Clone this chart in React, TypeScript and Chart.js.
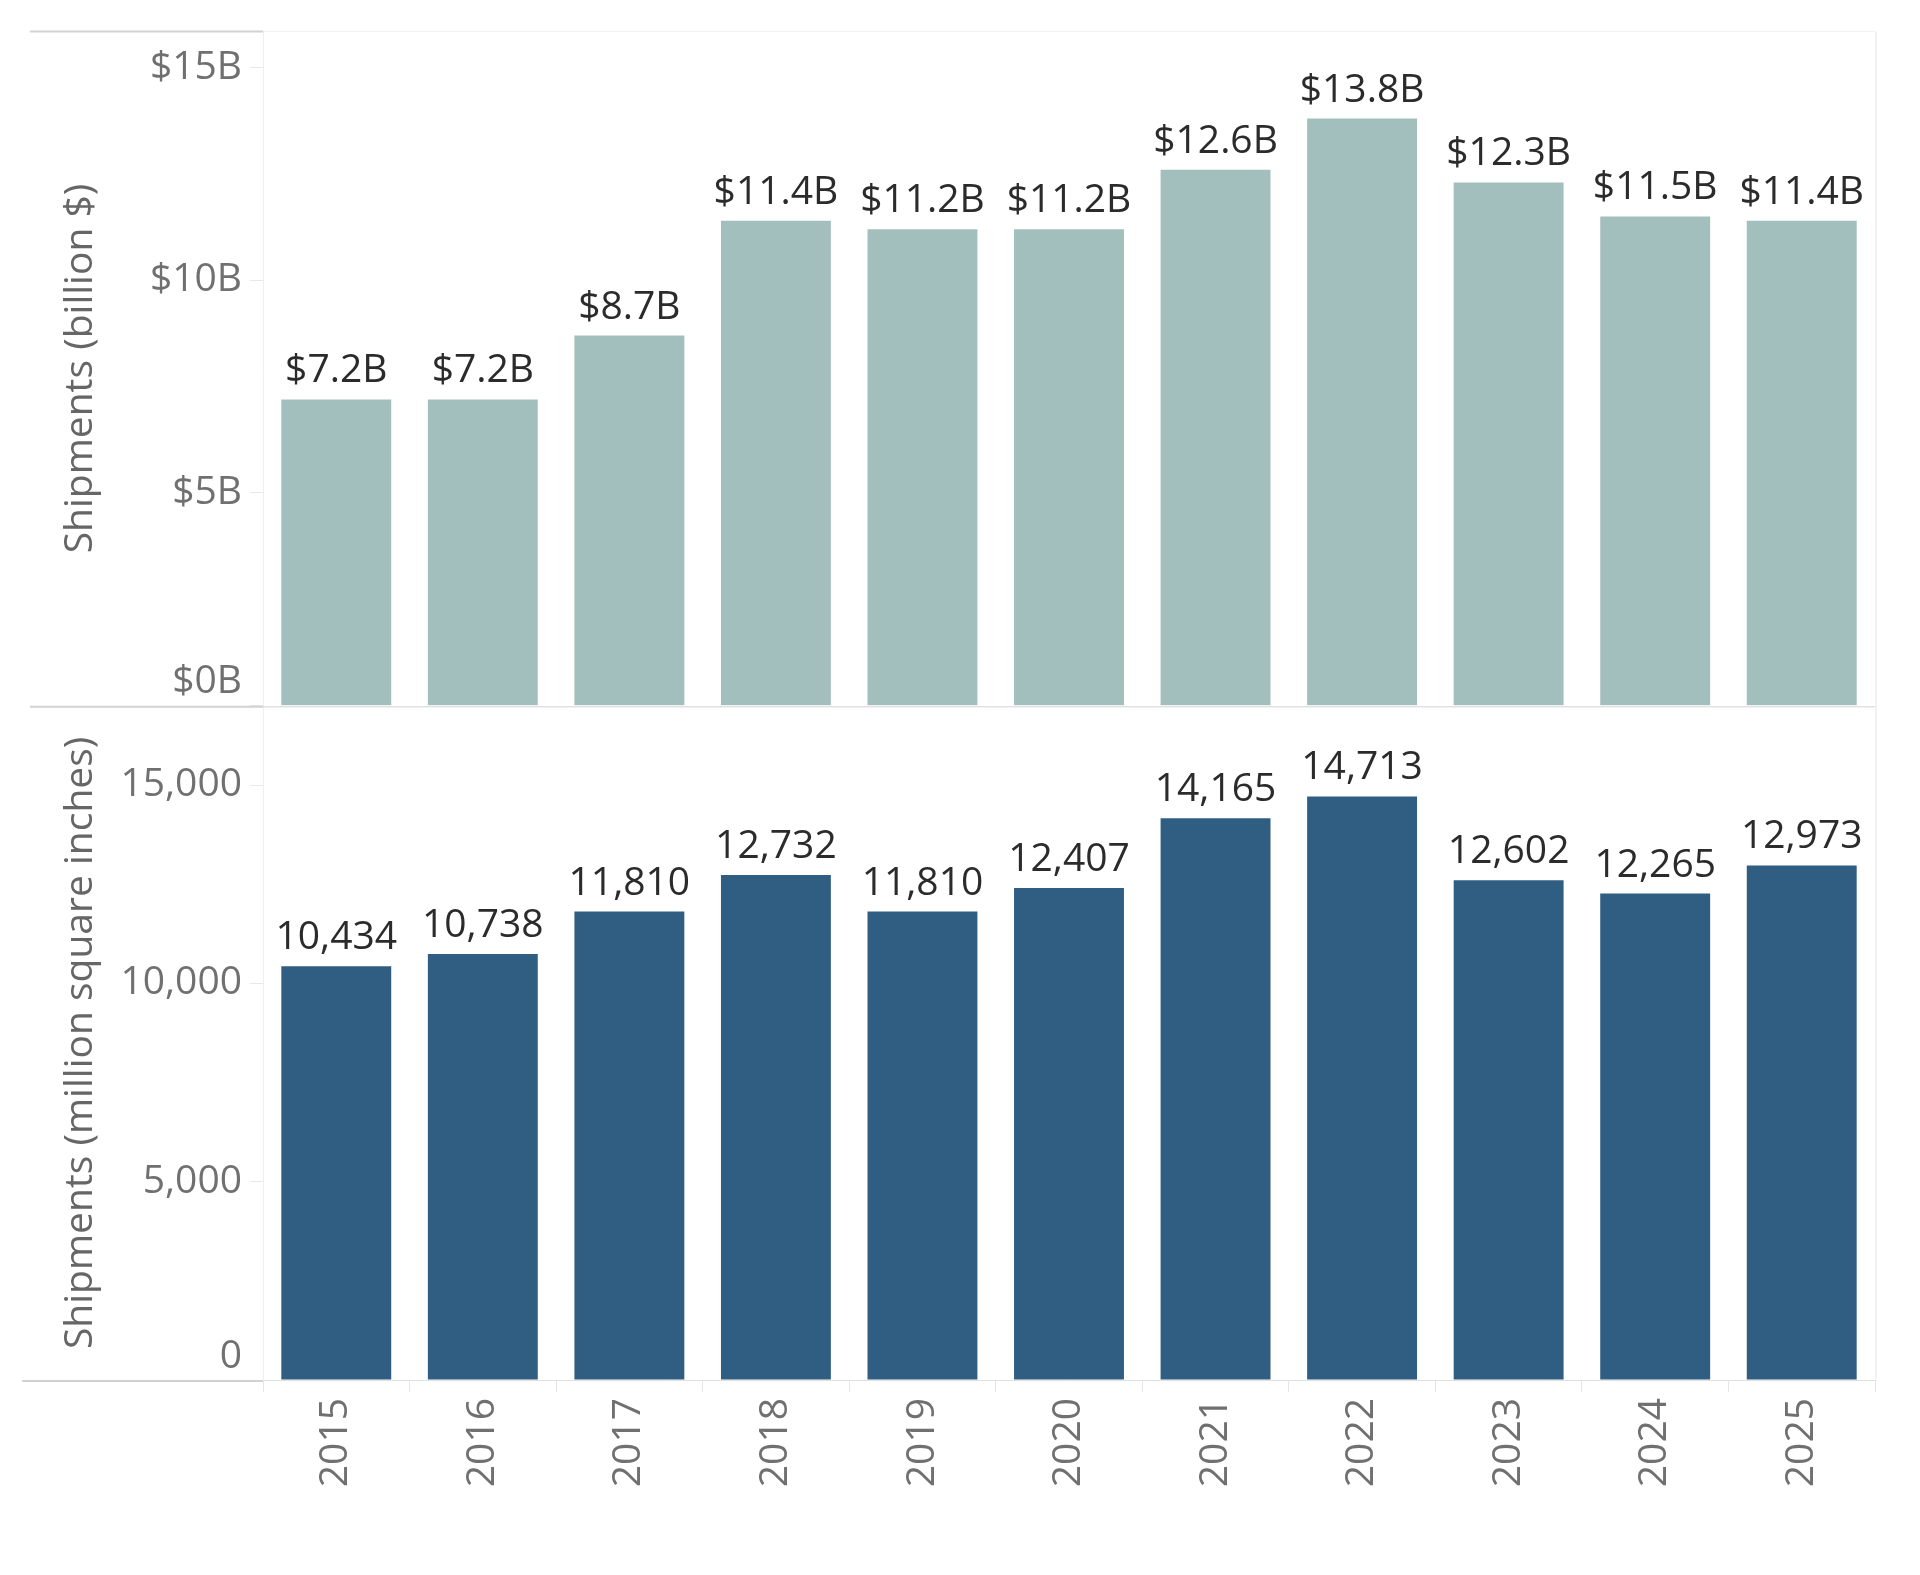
import React, { useEffect, useRef } from "react";
import { Chart, registerables } from "chart.js";

Chart.register(...registerables);

// ---- data ----
const years = ["2015", "2016", "2017", "2018", "2019", "2020", "2021", "2022", "2023", "2024", "2025"];
const valueBillions = [7.2, 7.2, 8.7, 11.4, 11.2, 11.2, 12.6, 13.8, 12.3, 11.5, 11.4];
const areaMillionSqIn = [10434, 10738, 11810, 12732, 11810, 12407, 14165, 14713, 12602, 12265, 12973];
const valueTicks = [0, 5, 10, 15];
const areaTicks = [0, 5000, 10000, 15000];
const valueTitle = "Shipments (billion $)";
const areaTitle = "Shipments (million square inches)";

const FONT_FAMILY = "'Open Sans', 'Noto Sans', sans-serif";
const TICK_FONT = { family: FONT_FAMILY, size: 39 };
const LABEL_FONT_SIZE = 39;

const fmtValue = (v: number) => `$${v.toFixed(1)}B`;
const fmtArea = (v: number) => v.toLocaleString("en-US");
const labelFormatters = [fmtValue, fmtArea];

const barLabels = {
  id: "barLabels",
  afterDatasetsDraw(chart: any) {
    const ctx = chart.ctx;
    ctx.save();
    ctx.font = `${LABEL_FONT_SIZE}px ${FONT_FAMILY}`;
    ctx.fillStyle = "#2b2b2b";
    ctx.textAlign = "center";
    ctx.textBaseline = "alphabetic";
    chart.data.datasets.forEach((ds: any, i: number) => {
      const meta = chart.getDatasetMeta(i);
      meta.data.forEach((bar: any, j: number) => {
        const txt = labelFormatters[i](ds.data[j]);
        ctx.fillText(txt, bar.x, bar.y - 17);
      });
    });
    ctx.restore();
  },
};

const panelRules = {
  id: "panelRules",
  beforeDatasetsDraw(chart: any) {
    const { ctx, chartArea } = chart;
    const top = chart.scales.yTop;
    const seg = (x1: number, x2: number, y: number, color: string, w: number) => {
      ctx.beginPath();
      ctx.strokeStyle = color;
      ctx.lineWidth = w;
      ctx.moveTo(x1, y);
      ctx.lineTo(x2, y);
      ctx.stroke();
    };
    ctx.save();
    seg(30, chartArea.left, top.top, "#d2d2d2", 2);
    seg(chartArea.left, chartArea.right, top.top, "#f2f2f2", 1);
    seg(30, chartArea.left, top.bottom + 1, "#d2d2d2", 2);
    seg(chartArea.left, chartArea.right, top.bottom + 1, "#e2e2e2", 1.5);
    seg(22, chartArea.left, chartArea.bottom + 1, "#d2d2d2", 2);
    ctx.beginPath();
    ctx.strokeStyle = "#eeeeee";
    ctx.lineWidth = 1.5;
    ctx.moveTo(chartArea.right + 1, chartArea.top);
    ctx.lineTo(chartArea.right + 1, chartArea.bottom);
    ctx.stroke();
    ctx.restore();
  },
};

export default function App() {
  const canvasRef = useRef<HTMLCanvasElement | null>(null);

  useEffect(() => {
    if (!canvasRef.current) return;
    const chart = new Chart(canvasRef.current, {
      type: "bar",
      data: {
        labels: years,
        datasets: [
          {
            data: valueBillions,
            yAxisID: "yTop",
            xAxisID: "x",
            backgroundColor: "#a3bfbd",
            grouped: false,
            categoryPercentage: 1,
            barPercentage: 0.75,
          } as any,
          {
            data: areaMillionSqIn,
            yAxisID: "yBot",
            xAxisID: "x",
            backgroundColor: "#2f5e82",
            grouped: false,
            categoryPercentage: 1,
            barPercentage: 0.75,
          } as any,
        ],
      },
      options: {
        animation: false,
        responsive: false,
        layout: { padding: { left: 0, right: 45, top: 31, bottom: 0 } },
        plugins: {
          legend: { display: false },
          tooltip: { enabled: false },
        },
        scales: {
          x: {
            type: "category",
            offset: true,
            grid: {
              display: true,
              drawOnChartArea: false,
              drawTicks: true,
              tickLength: 12,
              color: "#e6e6e6",
            },
            border: { display: true, color: "#e0e0e0" },
            ticks: {
              autoSkip: false,
              maxRotation: 90,
              minRotation: 90,
              padding: 6,
              color: "#707070",
              font: TICK_FONT,
            },
            afterFit: (s: any) => {
              s.height = 195;
            },
          },
          yBot: {
            type: "linear",
            position: "left",
            stack: "panels",
            stackWeight: 1,
            min: 0,
            max: 17000,
            afterBuildTicks: (s: any) => {
              s.ticks = areaTicks.map((v) => ({ value: v }));
            },
            afterFit: (s: any) => {
              s.width = 263;
            },
            grid: {
              drawOnChartArea: false,
              drawTicks: true,
              tickLength: 13,
              color: "#e8e8e8",
            },
            border: { display: true, color: "#efefef" },
            ticks: {
              padding: 8,
              color: "#707070",
              font: TICK_FONT,
              callback: (v: any) => (Number(v) === 0 ? ["0", ""] : fmtArea(Number(v))),
            },
            title: {
              display: true,
              text: areaTitle,
              color: "#666666",
              font: TICK_FONT,
              padding: { top: 57, bottom: 0 },
            },
          },
          yTop: {
            type: "linear",
            position: "left",
            stack: "panels",
            stackWeight: 1,
            min: 0,
            max: 15.85,
            afterBuildTicks: (s: any) => {
              s.ticks = valueTicks.map((v) => ({ value: v }));
            },
            afterFit: (s: any) => {
              s.width = 263;
            },
            grid: {
              drawOnChartArea: false,
              drawTicks: true,
              tickLength: 13,
              color: "#e8e8e8",
            },
            border: { display: true, color: "#efefef" },
            ticks: {
              padding: 8,
              color: "#707070",
              font: TICK_FONT,
              callback: (v: any) => (Number(v) === 0 ? ["$0B", ""] : `$${v}B`),
            },
            title: {
              display: true,
              text: valueTitle,
              color: "#666666",
              font: TICK_FONT,
              padding: { top: 57, bottom: 0 },
            },
          },
        },
      } as any,
      plugins: [panelRules, barLabels],
    });
    return () => chart.destroy();
  }, []);

  return (
    <canvas
      ref={canvasRef}
      width={1920}
      height={1575}
      style={{ position: "absolute", left: 0, top: 0, display: "block" }}
    />
  );
}
